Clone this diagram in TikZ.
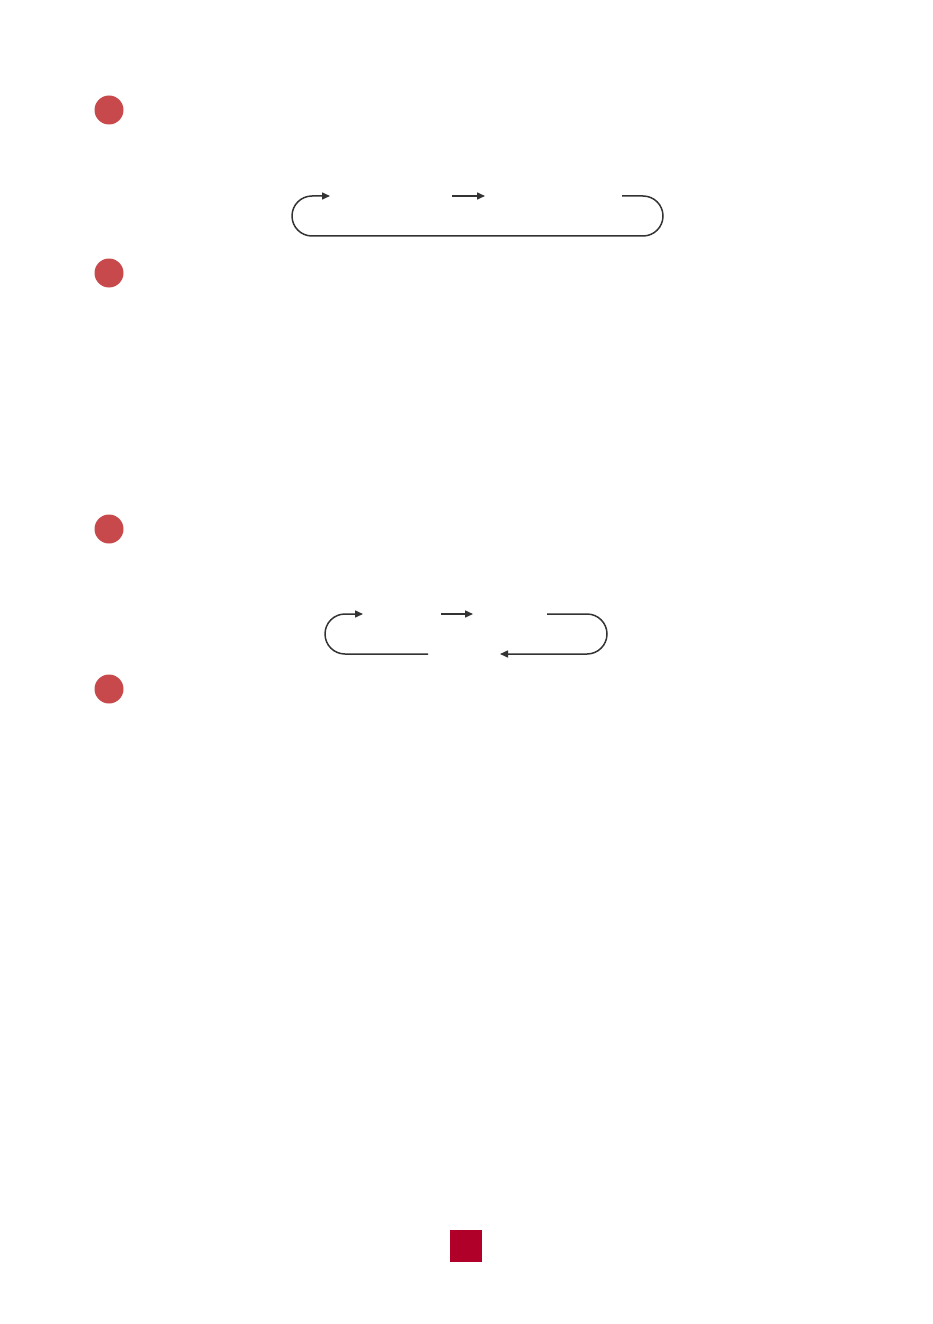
\documentclass[tikz,border=0pt]{standalone}
\usepackage{tikz}
\usetikzlibrary{positioning, arrows.meta}
\usepackage{xcolor}
\definecolor{markred}{HTML}{C8494C}
\definecolor{pagered}{HTML}{B0002A}
\definecolor{loopgray}{HTML}{333333}

\begin{document}
\begin{tikzpicture}[x=1pt, y=-1pt, every marker/.style={circle, fill=markred, minimum size=29pt, inner sep=0pt}, every flow/.style={draw=loopgray, line width=1.5pt, -{Triangle[length=8pt, width=7pt]}}]

    % Page frame
    \useasboundingbox (0,0) rectangle (933,1324);

    % Section markers - red dots
    \foreach \i/\y in {1/110, 2/273, 3/529, 4/689}
        \node[every marker] (M-\i) at (109,\y) {};

    % First loop - end points
    \coordinate (L1-out) at (622,196);
    \coordinate (L1-in) at (330,196);
    \coordinate (L1-a) at (452,196);
    \coordinate (L1-b) at (485,196);

    % First loop - return path and step arrow
    \draw[every flow, rounded corners=20pt] (L1-out) -- (663,196) -- (663,236) -- (292,236) -- (292,196) -- (L1-in);
    \draw[every flow] (L1-a) -- (L1-b);

    % Second loop - end points
    \coordinate (L2-out) at (547,614);
    \coordinate (L2-back) at (500,654);
    \coordinate (L2-from) at (428,654);
    \coordinate (L2-in) at (363,614);
    \coordinate (L2-a) at (441,614);
    \coordinate (L2-b) at (473,614);

    % Second loop - two half paths and step arrow
    \draw[every flow, rounded corners=20pt] (L2-out) -- (607,614) -- (607,654) -- (L2-back);
    \draw[every flow, rounded corners=20pt] (L2-from) -- (325,654) -- (325,614) -- (L2-in);
    \draw[every flow] (L2-a) -- (L2-b);

    % Page mark
    \node[fill=pagered, minimum size=32pt, inner sep=0pt] (page) at (466,1246) {};

\end{tikzpicture}
\end{document}
